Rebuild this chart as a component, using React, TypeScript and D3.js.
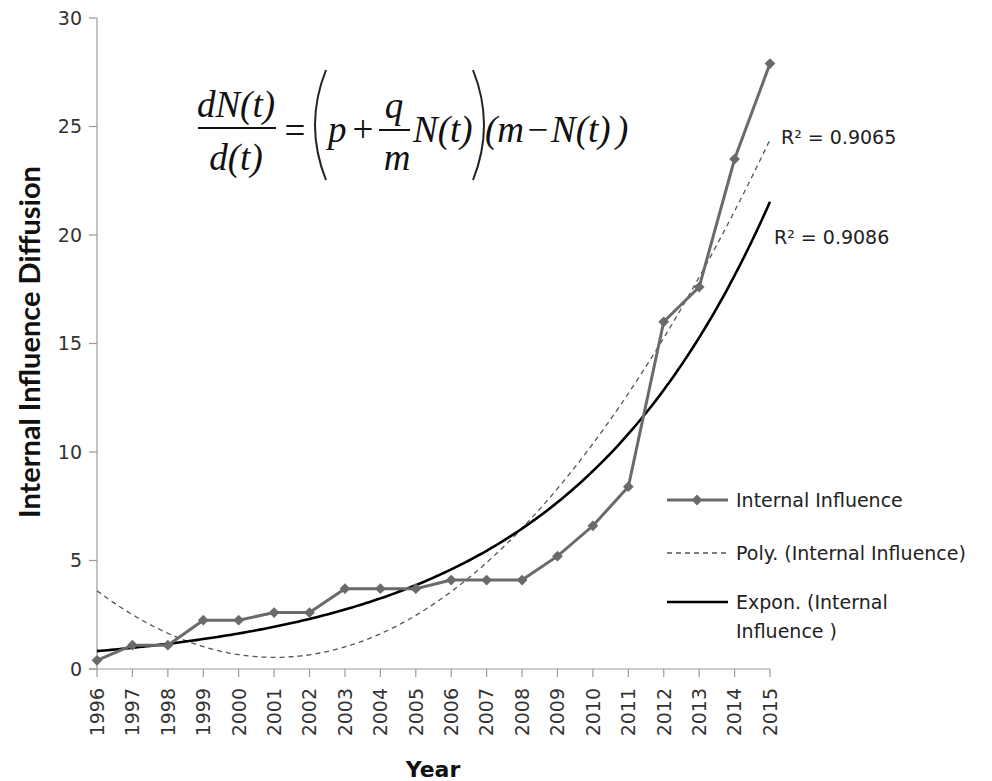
import React from 'react';
import * as d3 from 'd3';

// categories and values
const years = [1996, 1997, 1998, 1999, 2000, 2001, 2002, 2003, 2004, 2005, 2006, 2007, 2008, 2009, 2010, 2011, 2012, 2013, 2014, 2015];
const internalInfluence = [0.4, 1.1, 1.1, 2.25, 2.25, 2.6, 2.6, 3.7, 3.7, 3.7, 4.1, 4.1, 4.1, 5.2, 6.6, 8.4, 16.0, 17.6, 23.5, 27.9];
const yTicks = [0, 5, 10, 15, 20, 25, 30];
const legendLabels = ['Internal Influence', 'Poly. (Internal Influence)', 'Expon. (Internal', 'Influence )'];
const r2Labels = ['R\u00B2 = 0.9065', 'R\u00B2 = 0.9086'];

const W = 992;
const H = 781;
const SANS = '"DejaVu Sans", Verdana, sans-serif';
const TITLE = 'Lato, "Open Sans", sans-serif';
const MATH = '"Liberation Serif", "Times New Roman", serif';

// least squares fits, like the spreadsheet trendlines (x = 1..n)
function polyFit2(ys: number[]) {
  const s = [0, 0, 0, 0, 0];
  const t = [0, 0, 0];
  ys.forEach((y, i) => {
    const x = i + 1;
    for (let k = 0; k < 5; k++) s[k] += Math.pow(x, k);
    for (let k = 0; k < 3; k++) t[k] += y * Math.pow(x, k);
  });
  const A = [
    [s[0], s[1], s[2], t[0]],
    [s[1], s[2], s[3], t[1]],
    [s[2], s[3], s[4], t[2]],
  ];
  for (let i = 0; i < 3; i++) {
    for (let j = i + 1; j < 3; j++) {
      const f = A[j][i] / A[i][i];
      for (let k = i; k < 4; k++) A[j][k] -= f * A[i][k];
    }
  }
  const c = [0, 0, 0];
  for (let i = 2; i >= 0; i--) {
    let v = A[i][3];
    for (let k = i + 1; k < 3; k++) v -= A[i][k] * c[k];
    c[i] = v / A[i][i];
  }
  return (x: number) => c[0] + c[1] * x + c[2] * x * x;
}

function expFit(ys: number[]) {
  const xs = ys.map((_, i) => i + 1);
  const ls = ys.map((y) => Math.log(y));
  const mx = d3.mean(xs) as number;
  const ml = d3.mean(ls) as number;
  let sxy = 0;
  let sxx = 0;
  for (let i = 0; i < xs.length; i++) {
    sxy += (xs[i] - mx) * (ls[i] - ml);
    sxx += (xs[i] - mx) * (xs[i] - mx);
  }
  const b = sxy / sxx;
  const a = ml - b * mx;
  return (x: number) => Math.exp(a + b * x);
}

const App = () => {
  const x = d3.scaleLinear().domain([years[0], years[years.length - 1]]).range([97, 770]);
  const y = d3.scaleLinear().domain([0, 30]).range([669, 18]);

  const poly = polyFit2(internalInfluence);
  const expo = expFit(internalInfluence);
  const samples = d3.range(1, years.length + 0.001, 0.1);

  const line = d3
    .line<[number, number]>()
    .x((d) => d[0])
    .y((d) => d[1]);

  const dataPath = line(years.map((yr, i) => [x(yr), y(internalInfluence[i])]));
  const polyPath = line(samples.map((s) => [x(years[0] + s - 1), y(poly(s))]));
  const expoPath = line(samples.map((s) => [x(years[0] + s - 1), y(expo(s))]));
  const diamond = d3.symbol(d3.symbolSquare, 58)() as string;

  const axisColor = '#9a9a9a';
  const dataColor = '#6a6a6a';

  return (
    <svg width={W} height={H} style={{ position: 'absolute', left: 0, top: 0, background: '#fff' }}>
      {/* y axis */}
      <line x1={97} x2={97} y1={y(30)} y2={y(0)} stroke={axisColor} strokeWidth={1.2} />
      {yTicks.map((t) => (
        <g key={t}>
          <line x1={89} x2={97} y1={y(t)} y2={y(t)} stroke={axisColor} strokeWidth={1.2} />
          <text x={82} y={y(t)} dy="0.36em" textAnchor="end" fontFamily={SANS} fontSize={19} fill="#333">
            {t}
          </text>
        </g>
      ))}
      {/* x axis */}
      <line x1={89} x2={x(2015)} y1={y(0)} y2={y(0)} stroke={axisColor} strokeWidth={1.2} />
      {years.map((yr) => (
        <g key={yr}>
          <line x1={x(yr)} x2={x(yr)} y1={y(0)} y2={y(0) + 8} stroke={axisColor} strokeWidth={1.2} />
          <text
            transform={`translate(${x(yr)},${y(0) + 19}) rotate(-90)`}
            dy="0.36em"
            textAnchor="end"
            fontFamily={SANS}
            fontSize={19}
            fill="#333"
          >
            {yr}
          </text>
        </g>
      ))}

      {/* axis titles */}
      <text
        transform="translate(30,342) rotate(-90)"
        textAnchor="middle"
        dy="0.36em"
        fontFamily={TITLE}
        fontWeight="bold"
        fontSize={29}
        fill="#111"
      >
        Internal Influence Diffusion
      </text>
      <text x={433} y={777} textAnchor="middle" fontFamily={SANS} fontWeight="bold" fontSize={22} fill="#111">
        Year
      </text>

      {/* series and trendlines */}
      <path d={polyPath || ''} fill="none" stroke="#555" strokeWidth={1.3} strokeDasharray="5,4" />
      <path d={expoPath || ''} fill="none" stroke="#000" strokeWidth={2.6} />
      <path d={dataPath || ''} fill="none" stroke={dataColor} strokeWidth={3} />
      {years.map((yr, i) => (
        <path
          key={yr}
          d={diamond}
          transform={`translate(${x(yr)},${y(internalInfluence[i])}) rotate(45)`}
          fill={dataColor}
        />
      ))}

      {/* R squared labels */}
      <text x={781} y={137} dy="0.36em" fontFamily={SANS} fontSize={19} fill="#222">
        {r2Labels[0]}
      </text>
      <text x={774} y={237} dy="0.36em" fontFamily={SANS} fontSize={19} fill="#222">
        {r2Labels[1]}
      </text>

      {/* legend */}
      <g fontFamily={SANS} fontSize={19} fill="#222">
        <line x1={667} x2={728} y1={500} y2={500} stroke={dataColor} strokeWidth={3} />
        <path d={diamond} transform="translate(697,500) rotate(45)" fill={dataColor} />
        <text x={736} y={500} dy="0.36em">{legendLabels[0]}</text>
        <line x1={667} x2={728} y1={553} y2={553} stroke="#555" strokeWidth={1.3} strokeDasharray="5,4" />
        <text x={736} y={553} dy="0.36em">{legendLabels[1]}</text>
        <line x1={667} x2={728} y1={602} y2={602} stroke="#000" strokeWidth={2.6} />
        <text x={736} y={602} dy="0.36em">{legendLabels[2]}</text>
        <text x={736} y={631} dy="0.36em">{legendLabels[3]}</text>
      </g>

      {/* Bass model equation */}
      <g fontFamily={MATH} fontStyle="italic" fontSize={37} fill="#111">
        <text x={236} y={117} textAnchor="middle">dN(t)</text>
        <line x1={198} x2={276} y1={128} y2={128} stroke="#111" strokeWidth={2} />
        <text x={236} y={170} textAnchor="middle">d(t)</text>
        <text x={295} y={143} textAnchor="middle" fontStyle="normal">=</text>
        <path d="M326,70 Q304,125 326,180" fill="none" stroke="#222" strokeWidth={2} />
        <text x={328} y={142}>p</text>
        <text x={363} y={142} textAnchor="middle" fontStyle="normal">+</text>
        <text x={394} y={118} textAnchor="middle">q</text>
        <line x1={379} x2={410} y1={130} y2={130} stroke="#111" strokeWidth={2} />
        <text x={397} y={170} textAnchor="middle">m</text>
        <text x={413} y={142}>N(t)</text>
        <path d="M473,70 Q495,125 473,180" fill="none" stroke="#222" strokeWidth={2} />
        <text x={485} y={142}>(m</text>
        <text x={538} y={142} textAnchor="middle" fontStyle="normal">{'\u2212'}</text>
        <text x={551} y={142}>N(t)</text>
        <text x={616} y={142}>)</text>
      </g>
    </svg>
  );
};

export default App;
